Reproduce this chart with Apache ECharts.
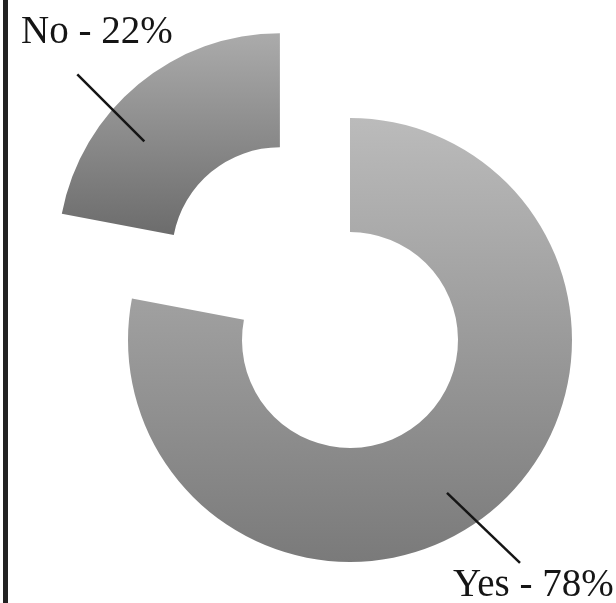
<!DOCTYPE html>
<html>
<head>
<meta charset="utf-8">
<script src="https://cdn.jsdelivr.net/npm/echarts@6/dist/echarts.min.js"></script>
<style>
html,body{margin:0;padding:0;background:#fff;}
#chart{width:616px;height:603px;}
</style>
</head>
<body>
<div id="chart"></div>
<script>
// Data
const categories = ['Yes', 'No'];
const values = [78, 22];
const explodedFlags = [false, true];

// Layout (px)
const CX = 350, CY = 340, R_IN = 108, R_OUT = 222, OFFSET = 110;

function dir(deg) { const a = deg * Math.PI / 180; return [Math.cos(a), -Math.sin(a)]; }

const total = values.reduce((a, b) => a + b, 0);
const midAngles = [];
(function () {
  let start = 90;
  values.forEach(v => {
    const span = v / total * 360;
    midAngles.push(start - span / 2);
    start -= span;
  });
})();

function sliceCenter(i) {
  if (!explodedFlags[i]) return [CX, CY];
  const d = dir(midAngles[i]);
  return [CX + OFFSET * d[0], CY + OFFSET * d[1]];
}

// label-line geometry relative to each slice centre
const lineGeom = [
  { ang: -57.6, r: 181, dx: 73, dy: 70, lx: 453, ly: 586 },
  { ang: 140, r: 177, dx: -67, dy: -67, lx: 21, ly: 33 }
];

const gradientStops = [
  ['#bbbbbb', '#7a7a7a'],
  ['#ababab', '#6c6c6c']
];

const chart = echarts.init(document.getElementById('chart'), null, { renderer: 'canvas' });

// k: which slice this series shows; labelsOnly: transparent copy carrying the label on top
function makeSeries(k, labelsOnly) {
  const c = sliceCenter(k);
  return {
    type: 'pie',
    center: c,
    radius: [R_IN, R_OUT],
    startAngle: 90,
    clockwise: true,
    avoidLabelOverlap: false,
    silent: true,
    z: labelsOnly ? 10 : 2,
    emphasis: { disabled: true },
    data: categories.map((name, i) => {
      const visible = i === k;
      return {
        name: name, value: values[i],
        itemStyle: {
          color: (visible && !labelsOnly)
            ? new echarts.graphic.LinearGradient(0, 0, 0, 1, [
                { offset: 0, color: gradientStops[i][0] },
                { offset: 1, color: gradientStops[i][1] }])
            : 'rgba(0,0,0,0)'
        },
        label: { show: visible && labelsOnly },
        labelLine: { show: visible && labelsOnly }
      };
    }),
    label: {
      formatter: '{b} - {c}%',
      fontFamily: '"Liberation Serif", "Times New Roman", serif',
      fontSize: 39,
      color: '#151515'
    },
    labelLine: {
      length: 40, length2: 0,
      lineStyle: { color: '#151515', width: 2.5 }
    },
    labelLayout: function (params) {
      const i = params.dataIndex;
      if (i !== k || !labelsOnly) return {};
      const g = lineGeom[i];
      const d = dir(g.ang);
      const s = [c[0] + g.r * d[0], c[1] + g.r * d[1]];
      const e = [s[0] + g.dx, s[1] + g.dy];
      return {
        x: g.lx, y: g.ly, align: 'left', verticalAlign: 'middle',
        labelLinePoints: [s, e]
      };
    }
  };
}

chart.setOption({
  animation: false,
  backgroundColor: '#ffffff',
  graphic: [{
    type: 'rect', shape: { x: 3, y: 0, width: 5, height: 603 },
    style: { fill: '#222222' }, silent: true
  }],
  series: [makeSeries(0, false), makeSeries(1, false), makeSeries(0, true), makeSeries(1, true)]
});
</script>
</body>
</html>
